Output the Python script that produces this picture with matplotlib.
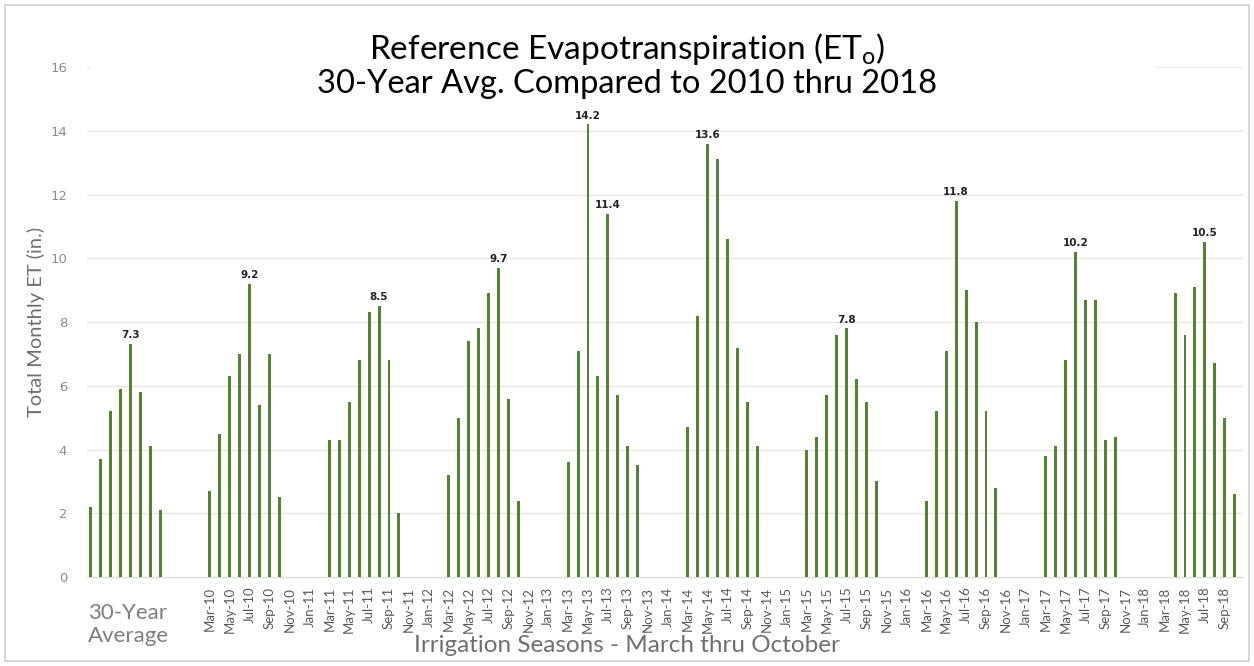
import matplotlib.pyplot as plt
from matplotlib.patches import Rectangle
import numpy as np

# monthly ET values (inches), March thru October
months = ['Mar', 'Apr', 'May', 'Jun', 'Jul', 'Aug', 'Sep', 'Oct']
avg_30yr = [2.2, 3.7, 5.2, 5.9, 7.3, 5.8, 4.1, 2.1]
et_2010 = [2.7, 4.5, 6.3, 7.0, 9.2, 5.4, 7.0, 2.5]
et_2011 = [4.3, 4.3, 5.5, 6.8, 8.3, 8.5, 6.8, 2.0]
et_2012 = [3.2, 5.0, 7.4, 7.8, 8.9, 9.7, 5.6, 2.4]
et_2013 = [3.6, 7.1, 14.2, 6.3, 11.4, 5.7, 4.1, 3.5]
et_2014 = [4.7, 8.2, 13.6, 13.1, 10.6, 7.2, 5.5, 4.1]
et_2015 = [4.0, 4.4, 5.7, 7.6, 7.8, 6.2, 5.5, 3.0]
et_2016 = [2.4, 5.2, 7.1, 11.8, 9.0, 8.0, 5.2, 2.8]
et_2017 = [3.8, 4.1, 6.8, 10.2, 8.7, 8.7, 4.3, 4.4]
et_2018 = [None, 8.9, 7.6, 9.1, 10.5, 6.7, 5.0, 2.6]
years = [2010, 2011, 2012, 2013, 2014, 2015, 2016, 2017, 2018]
seasons = [et_2010, et_2011, et_2012, et_2013, et_2014, et_2015, et_2016, et_2017, et_2018]
# which months carry a value label
labelled = {'avg': ['Jul'], 2010: ['Jul'], 2011: ['Aug'], 2012: ['Aug'], 2013: ['May', 'Jul'],
            2014: ['May'], 2015: ['Jul'], 2016: ['Jun'], 2017: ['Jun'], 2018: ['Jul']}

month_names = ['Jan', 'Feb', 'Mar', 'Apr', 'May', 'Jun', 'Jul', 'Aug', 'Sep', 'Oct', 'Nov', 'Dec']
start = 12  # slot of Mar-10


def slot(year, m):
    return start + (year - 2010) * 12 + (m - 2)


green = '#548235'
grey = '#7f7f7f'
font = 'Lato'

fig = plt.figure(figsize=(12.54, 6.66), dpi=100)
ax = fig.add_axes([0.069, 0.1336, 0.922, 0.7658])

# bars
xs, ys, labs = [], [], []
for i, v in enumerate(avg_30yr):
    xs.append(i)
    ys.append(v)
    labs.append(months[i] in labelled['avg'])
for yr, vals in zip(years, seasons):
    for i, v in enumerate(vals):
        if v is None:
            continue
        xs.append(slot(yr, i + 2))
        ys.append(v)
        labs.append(months[i] in labelled[yr])

ax.bar(xs, ys, width=0.3, color=green, zorder=3)
for x, y, lab in zip(xs, ys, labs):
    if lab:
        ax.text(x, y + 0.12, f'{y:.1f}', ha='center', va='bottom', fontsize=7.5,
                fontweight='bold', color='#222222', zorder=4, family='DejaVu Sans')

ax.set_xlim(-0.4, 115.8)
ax.set_ylim(0, 16)
ax.set_yticks(np.arange(0, 17, 2))
ax.yaxis.grid(True, color='#e6e6e6', linewidth=1, zorder=0)
ax.tick_params(axis='y', length=0, labelsize=9.5, labelcolor='#8c8c8c', pad=14)

tick_pos, tick_lab = [], []
for yr in years:
    for m in range(12):
        p = slot(yr, m)
        if p >= start and p <= slot(2018, 8) and (m - 2) % 2 == 0:
            tick_pos.append(p)
            tick_lab.append(f'{month_names[m]}-{str(yr)[2:]}')
ax.set_xticks(tick_pos)
ax.set_xticklabels(tick_lab, rotation=90, fontsize=9.5, color='#595959', family=font)
ax.tick_params(axis='x', length=0, pad=7)

for s in ['top', 'right', 'left']:
    ax.spines[s].set_visible(False)
ax.spines['bottom'].set_color('#d9d9d9')

# white box behind the title hides the top grid line
ax.add_patch(Rectangle((0, 15.5), 107, 0.8, color='white', zorder=2, clip_on=False))

ax.set_ylabel('Total Monthly ET (in.)', fontsize=14.5, color='#6f6f6f', family=font)
ax.yaxis.set_label_coords(-0.036, 0.5)
fig.text(0.5, 0.021, 'Irrigation Seasons - March thru October', ha='center', va='baseline',
         fontsize=17.5, color='#6f6f6f', family=font)
fig.text(0.070, 0.030, '30-Year\nAverage', ha='left', va='bottom', fontsize=16,
         color=grey, family=font, linespacing=1.2)
fig.text(0.5, 0.9114, 'Reference Evapotranspiration (ET$_\\mathregular{o}$)',
         ha='center', va='baseline', fontsize=24, color='black', family=font)
fig.text(0.5, 0.860, '30-Year Avg. Compared to 2010 thru 2018',
         ha='center', va='baseline', fontsize=23.5, color='black', family=font)

fig.patches.append(Rectangle((0.004, 0.008), 0.992, 0.984, transform=fig.transFigure,
                             fill=False, edgecolor='#cfcfcf', linewidth=1.2))

plt.savefig('out.png', dpi=100)
